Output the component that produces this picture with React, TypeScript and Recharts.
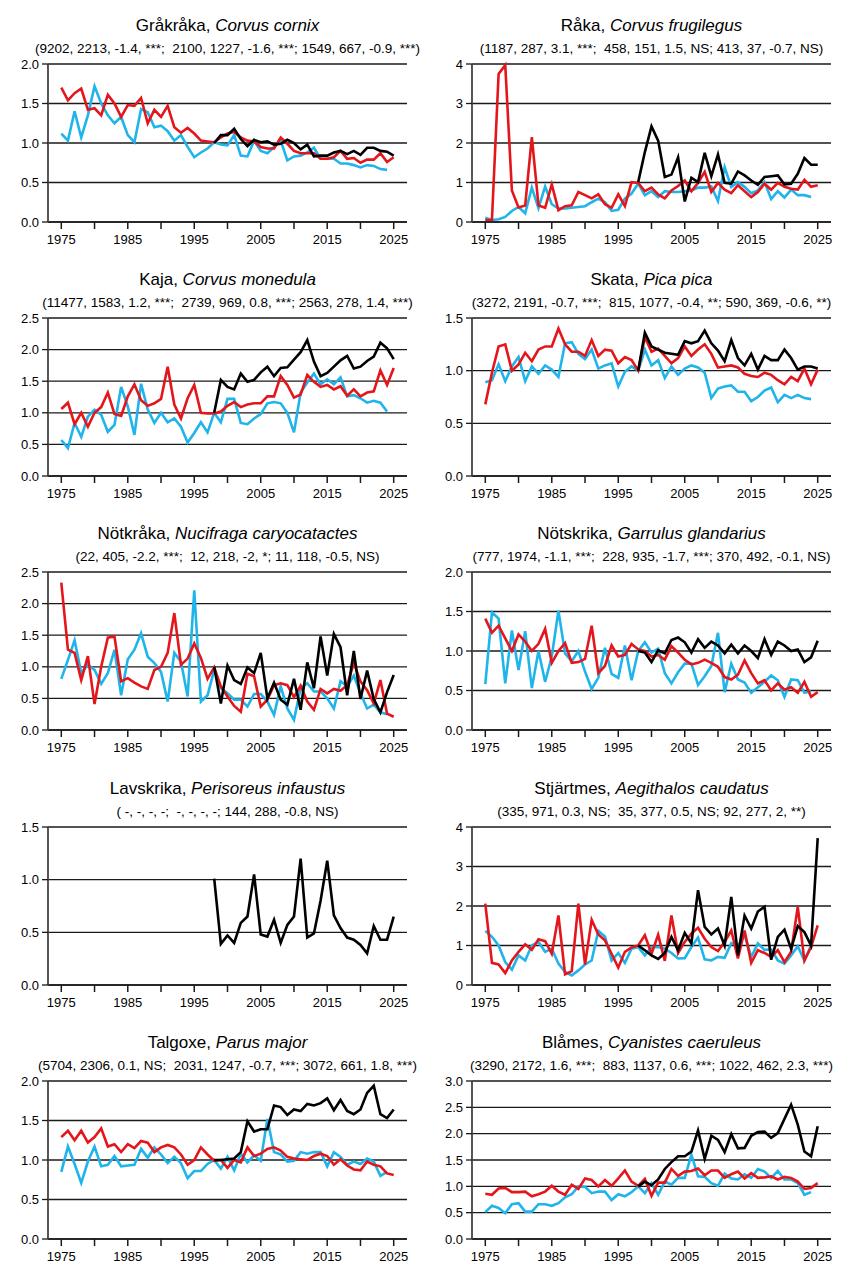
import { LineChart, Line, XAxis, YAxis, CartesianGrid } from "recharts";

// ── Data ──────────────────────────────────────────────────────────────────────
// blue: 1975–2024, red: 1975–2025, black: 1998–2025

const FIRST_YEAR = 1975;
const LAST_YEAR = 2025;
const BLACK_FIRST_YEAR = 1998;

const yearTicks = [1975, 1980, 1985, 1990, 1995, 2000, 2005, 2010, 2015, 2020, 2025];
const labelledYears = [1975, 1985, 1995, 2005, 2015, 2025];

const ticks2 = [0, 0.5, 1, 1.5, 2];
const ticks25 = [0, 0.5, 1, 1.5, 2, 2.5];
const ticks15 = [0, 0.5, 1, 1.5];
const ticks3 = [0, 0.5, 1, 1.5, 2, 2.5, 3];
const ticks4 = [0, 1, 2, 3, 4];

// Gråkråka
const grakrakaBlue = [
    1.12, 1.03, 1.40, 1.07, 1.35, 1.72, 1.50, 1.35, 1.25, 1.33,
    1.10, 1.01, 1.43, 1.39, 1.20, 1.22, 1.15, 1.03, 1.10, 0.95,
    0.82, 0.88, 0.93, 1.01, 0.98, 0.97, 1.10, 0.84, 0.83, 1.03,
    0.90, 0.87, 0.95, 1.03, 0.78, 0.83, 0.84, 0.88, 0.94, 0.80,
    0.80, 0.80, 0.74, 0.74, 0.72, 0.69, 0.72, 0.71, 0.67, 0.66,
];
const grakrakaRed = [
    1.70, 1.54, 1.63, 1.69, 1.42, 1.44, 1.35, 1.61, 1.50, 1.33,
    1.48, 1.47, 1.57, 1.25, 1.42, 1.33, 1.47, 1.20, 1.13, 1.19,
    1.12, 1.03, 1.02, 1.01, 1.07, 1.12, 1.14, 1.07, 1.03, 1.02,
    0.95, 0.93, 0.93, 1.07, 0.99, 0.90, 0.87, 0.87, 0.87, 0.80,
    0.80, 0.82, 0.90, 0.80, 0.81, 0.75, 0.79, 0.79, 0.87, 0.76, 0.82,
];
const grakrakaBlack = [
    1.00, 1.10, 1.10, 1.18, 1.05, 0.96, 1.04, 1.01, 1.02, 0.98,
    0.99, 1.04, 1.00, 0.92, 0.98, 0.83, 0.84, 0.84, 0.88, 0.90,
    0.86, 0.90, 0.85, 0.94, 0.94, 0.90, 0.89, 0.84,
];

// Råka
const rakaBlue = [
    0.11, 0.05, 0.07, 0.13, 0.28, 0.38, 0.22, 0.87, 0.35, 0.90,
    0.45, 0.34, 0.34, 0.36, 0.38, 0.40, 0.50, 0.59, 0.50, 0.28,
    0.31, 0.59, 0.72, 0.97, 0.68, 0.78, 0.63, 0.78, 0.76, 0.76,
    0.78, 0.80, 0.87, 0.87, 0.90, 0.53, 1.39, 0.89, 1.01, 0.89,
    0.73, 0.80, 1.01, 0.58, 0.78, 0.62, 0.82, 0.68, 0.68, 0.63,
];
const rakaRed = [
    0.05, 0.05, 3.75, 3.97, 0.80, 0.37, 0.42, 2.15, 0.42, 0.36,
    0.95, 0.30, 0.40, 0.42, 0.76, 0.68, 0.60, 0.70, 0.45, 0.36,
    0.70, 0.40, 1.01, 0.99, 0.78, 0.87, 0.70, 0.60, 0.80, 0.91,
    1.05, 0.78, 0.99, 1.27, 0.76, 0.99, 0.82, 0.73, 0.93, 0.78,
    0.63, 0.76, 0.97, 0.82, 0.99, 0.89, 0.84, 0.82, 1.07, 0.89, 0.93,
];
const rakaBlack = [
    1.01, 1.77, 2.42, 2.06, 1.14, 1.20, 1.64, 0.52, 1.12, 1.01,
    1.75, 1.16, 1.71, 0.99, 0.97, 1.28, 1.18, 1.05, 0.94, 1.14,
    1.16, 1.18, 0.95, 0.97, 1.22, 1.62, 1.45, 1.45,
];

// Kaja
const kajaBlue = [
    0.57, 0.44, 0.84, 0.62, 0.94, 1.05, 0.97, 0.70, 0.81, 1.41,
    1.10, 0.65, 1.46, 1.05, 0.84, 1.00, 0.85, 0.91, 0.78, 0.53,
    0.68, 0.85, 0.69, 1.00, 0.85, 1.22, 1.22, 0.84, 0.82, 0.91,
    0.98, 1.15, 1.17, 1.15, 1.00, 0.69, 1.32, 1.48, 1.62, 1.45,
    1.53, 1.45, 1.56, 1.26, 1.28, 1.23, 1.16, 1.19, 1.16, 1.02,
];
const kajaRed = [
    1.06, 1.16, 0.82, 1.00, 0.78, 1.00, 1.09, 1.32, 0.98, 0.95,
    1.26, 1.45, 1.20, 1.11, 1.15, 1.22, 1.73, 1.13, 0.91, 1.23,
    1.44, 1.00, 0.99, 0.99, 1.02, 1.11, 1.17, 1.09, 1.13, 1.15,
    1.15, 1.26, 1.26, 1.58, 1.44, 1.24, 1.29, 1.60, 1.49, 1.41,
    1.44, 1.37, 1.42, 1.27, 1.37, 1.26, 1.32, 1.34, 1.67, 1.44, 1.71,
];
const kajaBlack = [
    1.00, 1.52, 1.41, 1.37, 1.62, 1.49, 1.52, 1.64, 1.73, 1.58,
    1.71, 1.72, 1.84, 1.96, 2.15, 1.81, 1.58, 1.63, 1.73, 1.83,
    1.90, 1.70, 1.73, 1.82, 1.89, 2.11, 2.02, 1.85,
];

// Skata
const skataBlue = [
    0.89, 0.91, 1.06, 0.90, 1.04, 1.13, 0.90, 1.04, 0.97, 1.05,
    1.01, 0.94, 1.26, 1.27, 1.16, 1.11, 1.20, 1.02, 1.05, 1.07,
    0.85, 0.99, 1.04, 1.00, 1.20, 1.05, 1.10, 0.93, 1.04, 0.96,
    1.02, 1.05, 1.03, 0.98, 0.74, 0.83, 0.85, 0.86, 0.80, 0.80,
    0.71, 0.75, 0.81, 0.84, 0.70, 0.77, 0.74, 0.77, 0.74, 0.73,
];
const skataRed = [
    0.68, 0.98, 1.23, 1.25, 1.00, 1.06, 1.17, 1.09, 1.20, 1.23,
    1.23, 1.40, 1.25, 1.18, 1.18, 1.14, 1.29, 1.14, 1.20, 1.19,
    1.07, 1.13, 1.10, 1.00, 1.32, 1.18, 1.21, 1.14, 1.07, 1.12,
    1.23, 1.14, 1.20, 1.25, 1.16, 1.03, 1.04, 1.05, 1.03, 0.97,
    0.95, 0.94, 0.98, 0.96, 0.91, 0.87, 0.94, 0.90, 1.02, 0.87, 1.01,
];
const skataBlack = [
    1.00, 1.36, 1.23, 1.20, 1.17, 1.16, 1.15, 1.28, 1.26, 1.28,
    1.38, 1.26, 1.19, 1.09, 1.29, 1.12, 1.05, 1.16, 1.01, 1.14,
    1.10, 1.10, 1.20, 1.12, 1.01, 1.04, 1.04, 1.02,
];

// Nötkråka
const notkrakaBlue = [
    0.81, 1.11, 1.42, 0.90, 1.03, 0.95, 0.73, 0.90, 1.27, 0.55,
    1.12, 1.27, 1.53, 1.16, 1.06, 0.92, 0.45, 1.22, 1.08, 0.53,
    2.21, 0.45, 0.55, 0.95, 0.66, 0.58, 0.48, 0.48, 0.37, 0.57,
    0.57, 0.45, 0.24, 0.69, 0.34, 0.16, 0.66, 0.74, 0.61, 0.61,
    0.50, 0.34, 0.77, 0.69, 0.86, 0.58, 0.34, 0.40, 0.28, 0.25,
];
const notkrakaRed = [
    2.33, 1.27, 1.22, 0.79, 1.17, 0.41, 1.00, 1.46, 1.48, 0.77,
    0.82, 0.75, 0.69, 0.65, 0.95, 1.00, 1.22, 1.85, 1.03, 1.13,
    1.37, 1.14, 0.81, 0.99, 0.69, 0.53, 0.38, 0.29, 0.89, 0.85,
    0.37, 0.48, 0.71, 0.74, 0.71, 0.52, 0.70, 0.45, 0.32, 0.65,
    0.58, 0.65, 0.62, 0.71, 1.06, 0.77, 0.63, 0.42, 0.79, 0.26, 0.21,
];
const notkrakaBlack = [
    1.00, 0.42, 1.02, 0.79, 0.73, 0.99, 0.90, 1.22, 0.50, 0.75,
    0.48, 0.40, 0.81, 0.32, 1.07, 0.66, 1.48, 0.86, 1.52, 1.31,
    0.55, 1.25, 0.49, 0.94, 0.49, 0.28, 0.60, 0.87,
];

// Nötskrika
const notskrikaBlue = [
    0.58, 1.49, 1.41, 0.59, 1.26, 0.76, 1.25, 0.53, 1.00, 0.61,
    0.93, 1.51, 0.97, 0.87, 1.00, 0.74, 0.52, 0.66, 1.04, 0.71,
    0.66, 1.07, 0.63, 1.00, 1.11, 0.98, 1.03, 0.72, 0.59, 0.73,
    0.84, 0.84, 0.57, 0.68, 0.81, 1.23, 0.48, 0.84, 0.64, 0.60,
    0.47, 0.54, 0.61, 0.69, 0.63, 0.42, 0.64, 0.63, 0.47, 0.49,
];
const notskrikaRed = [
    1.41, 1.23, 1.32, 1.16, 1.00, 1.21, 1.12, 1.00, 1.09, 1.28,
    0.85, 1.00, 1.10, 0.85, 0.86, 0.90, 1.32, 0.72, 0.81, 1.07,
    0.93, 0.95, 1.09, 1.02, 1.00, 0.93, 0.95, 0.89, 1.06, 0.98,
    0.89, 0.83, 0.85, 0.89, 0.85, 0.80, 0.67, 0.64, 0.70, 0.88,
    0.72, 0.59, 0.63, 0.50, 0.59, 0.51, 0.54, 0.47, 0.61, 0.42, 0.48,
];
const notskrikaBlack = [
    1.00, 0.98, 0.86, 1.01, 0.97, 1.14, 1.17, 1.11, 0.98, 1.15,
    1.04, 1.12, 1.07, 0.97, 1.08, 0.97, 1.07, 1.00, 0.91, 1.15,
    0.95, 1.12, 1.07, 1.00, 1.02, 0.86, 0.92, 1.13,
];

// Lavskrika (only the black series)
const lavskrikaBlue: number[] = [];
const lavskrikaRed: number[] = [];
const lavskrikaBlack = [
    1.01, 0.39, 0.47, 0.40, 0.59, 0.65, 1.05, 0.48, 0.46, 0.62,
    0.40, 0.57, 0.65, 1.20, 0.45, 0.49, 0.80, 1.18, 0.66, 0.54,
    0.45, 0.43, 0.38, 0.30, 0.56, 0.43, 0.43, 0.65,
];

// Stjärtmes
const stjartmesBlue = [
    1.37, 1.22, 1.00, 0.58, 0.39, 0.75, 0.62, 1.00, 1.09, 0.84,
    0.92, 0.54, 0.33, 0.24, 0.37, 0.52, 0.62, 1.37, 1.23, 0.62,
    0.81, 0.56, 0.92, 0.96, 0.75, 0.96, 0.96, 0.92, 0.81, 0.67,
    0.68, 0.96, 1.20, 0.65, 0.62, 0.71, 0.69, 1.06, 0.99, 1.26,
    0.71, 1.05, 0.89, 0.90, 0.62, 0.54, 0.75, 0.98, 0.62, 1.00,
];
const stjartmesRed = [
    2.06, 0.56, 0.52, 0.30, 0.62, 0.84, 1.03, 0.89, 1.16, 1.11,
    0.79, 1.76, 0.27, 0.35, 2.06, 0.52, 1.65, 1.28, 1.13, 0.79,
    0.44, 0.84, 0.95, 1.00, 1.26, 0.79, 1.27, 0.61, 1.76, 0.81,
    1.09, 1.30, 1.45, 1.17, 0.96, 0.86, 1.09, 1.38, 0.67, 1.38,
    0.56, 0.88, 0.81, 0.71, 0.88, 0.58, 0.84, 1.98, 0.62, 0.96, 1.51,
];
const stjartmesBlack = [
    1.00, 0.88, 0.75, 0.66, 0.81, 1.22, 0.88, 1.32, 1.05, 2.40,
    1.47, 1.28, 1.43, 1.00, 2.23, 0.75, 1.76, 1.43, 1.86, 1.98,
    0.64, 1.22, 1.40, 0.92, 1.49, 1.34, 1.00, 3.72,
];

// Talgoxe
const talgoxeBlue = [
    0.85, 1.17, 0.95, 0.71, 0.98, 1.17, 0.92, 0.94, 1.05, 0.92,
    0.93, 0.94, 1.14, 1.03, 1.16, 1.07, 0.96, 1.04, 0.96, 0.77,
    0.86, 0.86, 0.95, 1.00, 0.89, 1.04, 0.87, 1.08, 0.97, 1.06,
    0.99, 1.52, 1.10, 1.07, 0.98, 0.99, 1.10, 1.08, 1.10, 1.10,
    0.92, 1.10, 1.04, 0.94, 0.98, 0.95, 1.02, 0.98, 0.80, 0.85,
];
const talgoxeRed = [
    1.29, 1.37, 1.25, 1.37, 1.22, 1.29, 1.40, 1.17, 1.20, 1.10,
    1.20, 1.15, 1.24, 1.22, 1.10, 1.16, 1.19, 1.16, 1.07, 0.94,
    1.00, 1.16, 1.07, 0.99, 1.00, 0.90, 1.00, 0.97, 1.16, 1.05,
    1.08, 1.14, 1.16, 1.12, 1.04, 1.02, 1.01, 1.00, 1.05, 1.08,
    1.05, 0.94, 1.01, 0.93, 0.88, 0.87, 0.98, 0.94, 0.92, 0.83, 0.81,
];
const talgoxeBlack = [
    1.00, 1.00, 1.01, 1.02, 1.10, 1.49, 1.36, 1.39, 1.39, 1.69,
    1.67, 1.57, 1.64, 1.62, 1.71, 1.69, 1.72, 1.78, 1.63, 1.76,
    1.62, 1.58, 1.64, 1.85, 1.94, 1.58, 1.53, 1.64,
];

// Blåmes
const blamesBlue = [
    0.51, 0.63, 0.59, 0.49, 0.66, 0.68, 0.52, 0.52, 0.66, 0.66,
    0.63, 0.68, 0.79, 0.85, 1.00, 0.99, 0.87, 0.90, 0.90, 0.74,
    0.85, 0.81, 0.89, 1.00, 0.87, 1.06, 0.84, 1.09, 1.03, 1.16,
    1.16, 1.60, 1.19, 1.18, 1.06, 1.01, 1.24, 1.15, 1.13, 1.23,
    1.16, 1.33, 1.28, 1.16, 1.29, 1.13, 1.13, 1.06, 0.84, 0.89,
];
const blamesRed = [
    0.86, 0.84, 0.96, 0.97, 0.89, 0.89, 0.90, 0.81, 0.85, 0.90,
    1.01, 0.90, 0.84, 1.03, 0.95, 1.15, 1.12, 1.00, 1.12, 1.01,
    1.15, 1.30, 1.09, 1.01, 1.14, 0.82, 1.07, 1.07, 1.33, 1.20,
    1.28, 1.29, 1.34, 1.21, 1.30, 1.30, 1.16, 1.23, 1.28, 1.15,
    1.25, 1.16, 1.17, 1.19, 1.13, 1.18, 1.16, 1.09, 0.95, 0.97, 1.06,
];
const blamesBlack = [
    1.00, 1.09, 1.02, 1.13, 1.33, 1.46, 1.57, 1.57, 1.66, 2.06,
    1.52, 1.96, 1.88, 1.65, 1.99, 1.72, 1.73, 1.96, 2.03, 2.04,
    1.92, 2.01, 2.28, 2.55, 2.17, 1.66, 1.57, 2.14,
];

// ── Panels ────────────────────────────────────────────────────────────────────

interface Species {
    name: string;
    latin: string;
    stats: string;
    yMax: number;
    yTicks: number[];
    blue: number[];
    red: number[];
    black: number[];
}

const species: Species[] = [
    { name: "Gråkråka", latin: "Corvus cornix", stats: "(9202, 2213, -1.4, ***;  2100, 1227, -1.6, ***; 1549, 667, -0.9, ***)", yMax: 2, yTicks: ticks2, blue: grakrakaBlue, red: grakrakaRed, black: grakrakaBlack },
    { name: "Råka", latin: "Corvus frugilegus", stats: "(1187, 287, 3.1, ***;  458, 151, 1.5, NS; 413, 37, -0.7, NS)", yMax: 4, yTicks: ticks4, blue: rakaBlue, red: rakaRed, black: rakaBlack },
    { name: "Kaja", latin: "Corvus monedula", stats: "(11477, 1583, 1.2, ***;  2739, 969, 0.8, ***; 2563, 278, 1.4, ***)", yMax: 2.5, yTicks: ticks25, blue: kajaBlue, red: kajaRed, black: kajaBlack },
    { name: "Skata", latin: "Pica pica", stats: "(3272, 2191, -0.7, ***;  815, 1077, -0.4, **; 590, 369, -0.6, **)", yMax: 1.5, yTicks: ticks15, blue: skataBlue, red: skataRed, black: skataBlack },
    { name: "Nötkråka", latin: "Nucifraga caryocatactes", stats: "(22, 405, -2.2, ***;  12, 218, -2, *; 11, 118, -0.5, NS)", yMax: 2.5, yTicks: ticks25, blue: notkrakaBlue, red: notkrakaRed, black: notkrakaBlack },
    { name: "Nötskrika", latin: "Garrulus glandarius", stats: "(777, 1974, -1.1, ***;  228, 935, -1.7, ***; 370, 492, -0.1, NS)", yMax: 2, yTicks: ticks2, blue: notskrikaBlue, red: notskrikaRed, black: notskrikaBlack },
    { name: "Lavskrika", latin: "Perisoreus infaustus", stats: "( -, -, -, -;  -, -, -, -; 144, 288, -0.8, NS)", yMax: 1.5, yTicks: ticks15, blue: lavskrikaBlue, red: lavskrikaRed, black: lavskrikaBlack },
    { name: "Stjärtmes", latin: "Aegithalos caudatus", stats: "(335, 971, 0.3, NS;  35, 377, 0.5, NS; 92, 277, 2, **)", yMax: 4, yTicks: ticks4, blue: stjartmesBlue, red: stjartmesRed, black: stjartmesBlack },
    { name: "Talgoxe", latin: "Parus major", stats: "(5704, 2306, 0.1, NS;  2031, 1247, -0.7, ***; 3072, 661, 1.8, ***)", yMax: 2, yTicks: ticks2, blue: talgoxeBlue, red: talgoxeRed, black: talgoxeBlack },
    { name: "Blåmes", latin: "Cyanistes caeruleus", stats: "(3290, 2172, 1.6, ***;  883, 1137, 0.6, ***; 1022, 462, 2.3, ***)", yMax: 3, yTicks: ticks3, blue: blamesBlue, red: blamesRed, black: blamesBlack },
];

// ── Layout / style ───────────────────────────────────────────────────────────

const FONT = '"Liberation Sans", Arial, sans-serif';
const BLUE = "#1fb4ea";
const RED = "#e4161c";
const INK = "#1a1a1a";
const PANEL_W = 424;
const PANEL_H = 254;
const ROW_TOPS = [0, 254, 508, 763, 1017];
const PLOT_LEFT = 48;
const PLOT_RIGHT = 407;
const PLOT_TOP = 64;

function buildRows(s: Species) {
    const rows = [];
    for (let year = FIRST_YEAR; year <= LAST_YEAR; year++) {
        const b = s.blue[year - FIRST_YEAR];
        const r = s.red[year - FIRST_YEAR];
        const k = year >= BLACK_FIRST_YEAR ? s.black[year - BLACK_FIRST_YEAR] : undefined;
        rows.push({
            year,
            blue: b ?? null,
            red: r ?? null,
            black: k ?? null,
        });
    }
    return rows;
}

function Panel({ s }: { s: Species }) {
    const rows = buildRows(s);
    const integerTicks = s.yMax === 4;
    const centre = (PLOT_LEFT + PLOT_RIGHT) / 2;
    return (
        <div style={{ position: "relative", width: PANEL_W, height: PANEL_H }}>
            <div
                style={{
                    position: "absolute", left: centre - 200, width: 400, top: 16,
                    textAlign: "center", fontSize: 17, lineHeight: "20px", color: "#000",
                    whiteSpace: "nowrap",
                }}
            >
                {s.name}, <i>{s.latin}</i>
            </div>
            <div
                style={{
                    position: "absolute", left: centre - 212, width: 424, top: 40,
                    textAlign: "center", fontSize: 13.5, lineHeight: "17px", color: "#000",
                    whiteSpace: "pre",
                }}
            >
                {s.stats}
            </div>
            <LineChart
                width={PANEL_W}
                height={PANEL_H}
                data={rows}
                margin={{ top: PLOT_TOP, right: PANEL_W - PLOT_RIGHT, bottom: 2, left: 0 }}
            >
                <CartesianGrid vertical={false} stroke={INK} strokeWidth={1.3} />
                <XAxis
                    dataKey="year"
                    type="number"
                    domain={[1973, 2027]}
                    ticks={yearTicks}
                    interval={0}
                    height={30}
                    tickSize={7}
                    tickMargin={6}
                    axisLine={{ stroke: INK, strokeWidth: 1.5 }}
                    tickLine={{ stroke: INK, strokeWidth: 1.5 }}
                    tick={{ fill: "#000", fontSize: 13 }}
                    tickFormatter={(v: number) => (labelledYears.includes(v) ? String(v) : "")}
                />
                <YAxis
                    type="number"
                    domain={[0, s.yMax]}
                    ticks={s.yTicks}
                    interval={0}
                    width={PLOT_LEFT}
                    tickSize={6}
                    tickMargin={3}
                    axisLine={{ stroke: "#444", strokeWidth: 1.8 }}
                    tickLine={{ stroke: INK, strokeWidth: 1.3 }}
                    tick={{ fill: "#000", fontSize: 13 }}
                    tickFormatter={(v: number) => (integerTicks ? String(v) : v.toFixed(1))}
                />
                <Line dataKey="blue" type="linear" stroke={BLUE} strokeWidth={2.6} dot={false} activeDot={false} isAnimationActive={false} />
                <Line dataKey="red" type="linear" stroke={RED} strokeWidth={2.6} dot={false} activeDot={false} isAnimationActive={false} />
                <Line dataKey="black" type="linear" stroke="#000" strokeWidth={2.6} dot={false} activeDot={false} isAnimationActive={false} />
            </LineChart>
        </div>
    );
}

// ── Main export ───────────────────────────────────────────────────────────────

export default function App() {
    return (
        <div
            style={{
                position: "absolute", left: 0, top: 0, width: 848, height: 1272,
                background: "#fff", fontFamily: FONT,
            }}
        >
            {species.map((s, i) => (
                <div
                    key={s.name}
                    style={{ position: "absolute", left: (i % 2) * PANEL_W, top: ROW_TOPS[Math.floor(i / 2)] }}
                >
                    <Panel s={s} />
                </div>
            ))}
        </div>
    );
}
